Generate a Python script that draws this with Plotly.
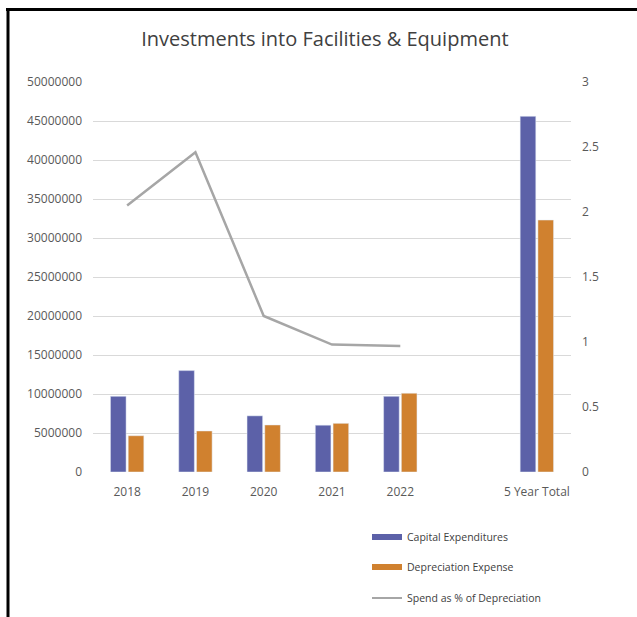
import plotly.graph_objects as go

# ---- data ----
categories = ["2018", "2019", "2020", "2021", "2022", " ", "5 Year Total"]
years = ["2018", "2019", "2020", "2021", "2022"]
capital_expenditures = [9700000, 13000000, 7200000, 6000000, 9700000, None, 45600000]
depreciation_expense = [4650000, 5260000, 6030000, 6240000, 10100000, None, 32300000]
spend_pct_depreciation = [2.05, 2.46, 1.20, 0.98, 0.97]
left_ticks = [0, 5000000, 10000000, 15000000, 20000000, 25000000, 30000000,
              35000000, 40000000, 45000000, 50000000]
right_ticks = [0, 0.5, 1, 1.5, 2, 2.5, 3]

BLUE = "#5C61A8"
ORANGE = "#D0812F"
GRAY = "#A6A6A6"
FONT = "Open Sans"
TICKC = "#595959"

W, H = 637, 617
L, R, T, B = 93, 66, 82, 145
pw, ph = W - L - R, H - T - B


def px(x):
    return (x - L) / pw


def py(y):
    return (H - B - y) / ph


fig = go.Figure()
fig.add_trace(go.Bar(x=categories, y=capital_expenditures, name="Capital Expenditures",
                     marker_color=BLUE, showlegend=False))
fig.add_trace(go.Bar(x=categories, y=depreciation_expense, name="Depreciation Expense",
                     marker_color=ORANGE, showlegend=False))
fig.add_trace(go.Scatter(x=years, y=spend_pct_depreciation, yaxis="y2", mode="lines",
                         line=dict(color=GRAY, width=2.5), showlegend=False,
                         name="Spend as % of Depreciation"))

# legend proxies
legend_items = [("Capital Expenditures", BLUE, 6, "legend", 537),
                ("Depreciation Expense", ORANGE, 6, "legend2", 567),
                ("Spend as % of Depreciation", GRAY, 2, "legend3", 598)]
for name, col, w, lg, _ in legend_items:
    fig.add_trace(go.Scatter(x=[None], y=[None], mode="lines", name=name,
                             line=dict(color=col, width=w), legend=lg, yaxis="y2"))

legend_common = dict(xanchor="left", yanchor="middle", bgcolor="rgba(0,0,0,0)",
                     xref="container", yref="container",
                     font=dict(family=FONT, size=10.5, color="#404040"))
layout_legends = {}
for name, col, w, lg, ypix in legend_items:
    layout_legends[lg] = dict(x=367 / W, y=1 - ypix / H, **legend_common)

fig.update_layout(
    width=W, height=H,
    margin=dict(l=L, r=R, t=T, b=B, autoexpand=False),
    paper_bgcolor="white", plot_bgcolor="white",
    barmode="group", bargap=0.48, bargroupgap=0.12,
    title=dict(text="Investments into Facilities & Equipment",
               x=0.51, xanchor="center", y=1 - 39 / H, yanchor="middle",
               font=dict(family=FONT, size=20, color="#404040")),
    xaxis=dict(type="category", categoryorder="array", categoryarray=categories,
               range=[-0.5, len(categories) - 0.5],
               showgrid=False, showline=False, zeroline=False,
               tickfont=dict(family=FONT, size=12, color=TICKC), ticklabelstandoff=11),
    yaxis=dict(range=[0, 50000000], tickvals=left_ticks, tickformat="d",
               showgrid=True, gridcolor="#D9D9D9", gridwidth=1, zeroline=False,
               showline=False, tickfont=dict(family=FONT, size=12, color=TICKC),
               ticklabelstandoff=10),
    yaxis2=dict(range=[0, 3], tickvals=right_ticks, overlaying="y", side="right",
                showgrid=False, zeroline=False, showline=False,
                tickfont=dict(family=FONT, size=12, color=TICKC), ticklabelstandoff=10),
    **layout_legends,
    shapes=[
        dict(type="line", xref="paper", yref="paper", x0=px(6), x1=px(660),
             y0=py(9.5), y1=py(9.5), line=dict(color="black", width=3)),
        dict(type="line", xref="paper", yref="paper", x0=px(8), x1=px(8),
             y0=py(8), y1=py(640), line=dict(color="black", width=3)),
    ],
)

fig.write_html("out.html")
